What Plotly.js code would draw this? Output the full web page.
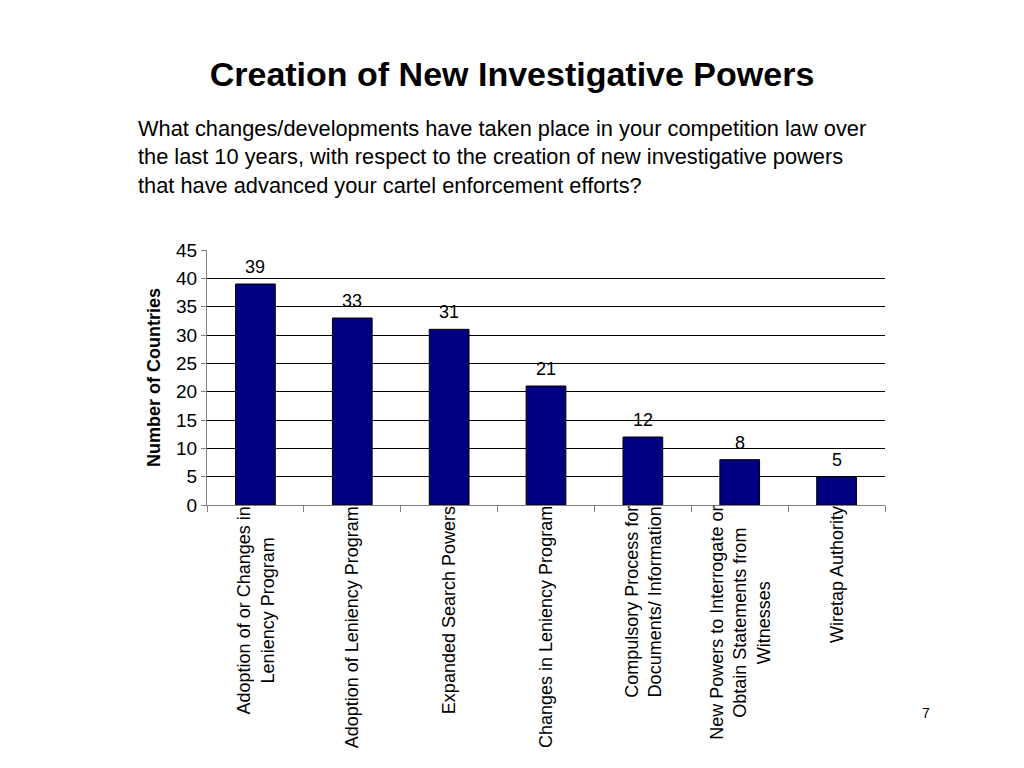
<!DOCTYPE html>
<html>
<head>
<meta charset="utf-8">
<script src="https://cdn.plot.ly/plotly-3.0.1.min.js"></script>
<style>
  body { margin: 0; background: #fff; }
  #chart { width: 1024px; height: 768px; }
</style>
</head>
<body>
<div id="chart"></div>
<script>
const categories = [
  'Adoption of or Changes in<br>Leniency Program',
  'Adoption of Leniency Program',
  'Expanded Search Powers',
  'Changes in Leniency Program',
  'Compulsory Process for<br>Documents/ Information',
  'New Powers to Interrogate or<br>Obtain Statements from<br>Witnesses',
  'Wiretap Authority',
];
const countries = [39, 33, 31, 21, 12, 8, 5];
const yTicks = [0, 5, 10, 15, 20, 25, 30, 35, 40, 45];

const font = 'Liberation Sans, Arial, sans-serif';

// value labels sit a bit above each bar
const valueNotes = countries.map((v, i) => ({
  x: i, y: v, xref: 'x', yref: 'y',
  text: String(v), showarrow: false,
  yanchor: 'bottom', yshift: 5,
  font: { family: font, size: 18, color: '#000' },
}));

// category labels rotated, centred lines, hanging under the axis
const catNotes = categories.map((c, i) => ({
  x: i, y: 0, xref: 'x', yref: 'y',
  text: c, showarrow: false, textangle: -90,
  xanchor: 'center', yanchor: 'top', align: 'center', yshift: 1,
  font: { family: font, size: 18, color: '#000' },
}));

const otherNotes = [
  {
    xref: 'paper', yref: 'paper', x: -0.104, y: 1.0, xanchor: 'left', yanchor: 'bottom',
    align: 'left', showarrow: false, yshift: 50,
    text: 'What changes/developments have taken place in your competition law over<br>' +
      'the last 10 years, with respect to the creation of new investigative powers<br>' +
      'that have advanced your cartel enforcement efforts?',
    font: { family: font, size: 21.8, color: '#000' },
  },
  {
    xref: 'paper', yref: 'paper', x: 1.07, y: 0, yshift: -218, showarrow: false,
    text: '7', font: { family: font, size: 14, color: '#000' },
  },
];

Plotly.newPlot('chart', [{
  type: 'bar',
  x: categories.map((c, i) => i),
  y: countries,
  marker: { color: '#000080', line: { color: '#000', width: 1 } },
  hoverinfo: 'none',
}], {
  width: 1024,
  height: 768,
  margin: { l: 207, r: 139, t: 250, b: 263 },
  paper_bgcolor: '#fff',
  plot_bgcolor: '#fff',
  bargap: 0.59,
  showlegend: false,
  font: { family: font, color: '#000' },
  title: {
    text: '<b>Creation of New Investigative Powers</b>',
    font: { family: font, size: 34, color: '#000' },
    x: 0.5, xref: 'container', y: 0.903, yanchor: 'middle',
  },
  xaxis: {
    range: [-0.5, 6.5],
    tickvals: [-0.5, 0.5, 1.5, 2.5, 3.5, 4.5, 5.5, 6.5],
    ticktext: ['', '', '', '', '', '', '', ''],
    ticks: 'outside', ticklen: 6, tickcolor: '#808080',
    showline: true, linecolor: '#808080', linewidth: 1,
    showgrid: false, zeroline: false, fixedrange: true,
  },
  yaxis: {
    range: [0, 45],
    tickvals: yTicks,
    ticks: 'outside', ticklen: 5, tickcolor: '#808080',
    tickfont: { family: font, size: 19, color: '#000' },
    showline: true, linecolor: '#808080', linewidth: 1,
    showgrid: true, gridcolor: '#000', gridwidth: 1,
    zeroline: false, fixedrange: true,
    title: {
      text: '<b>Number of Countries</b>',
      font: { family: font, size: 18, color: '#000' },
      standoff: 10,
    },
  },
  annotations: valueNotes.concat(catNotes, otherNotes),
}, { staticPlot: true });
</script>
</body>
</html>
